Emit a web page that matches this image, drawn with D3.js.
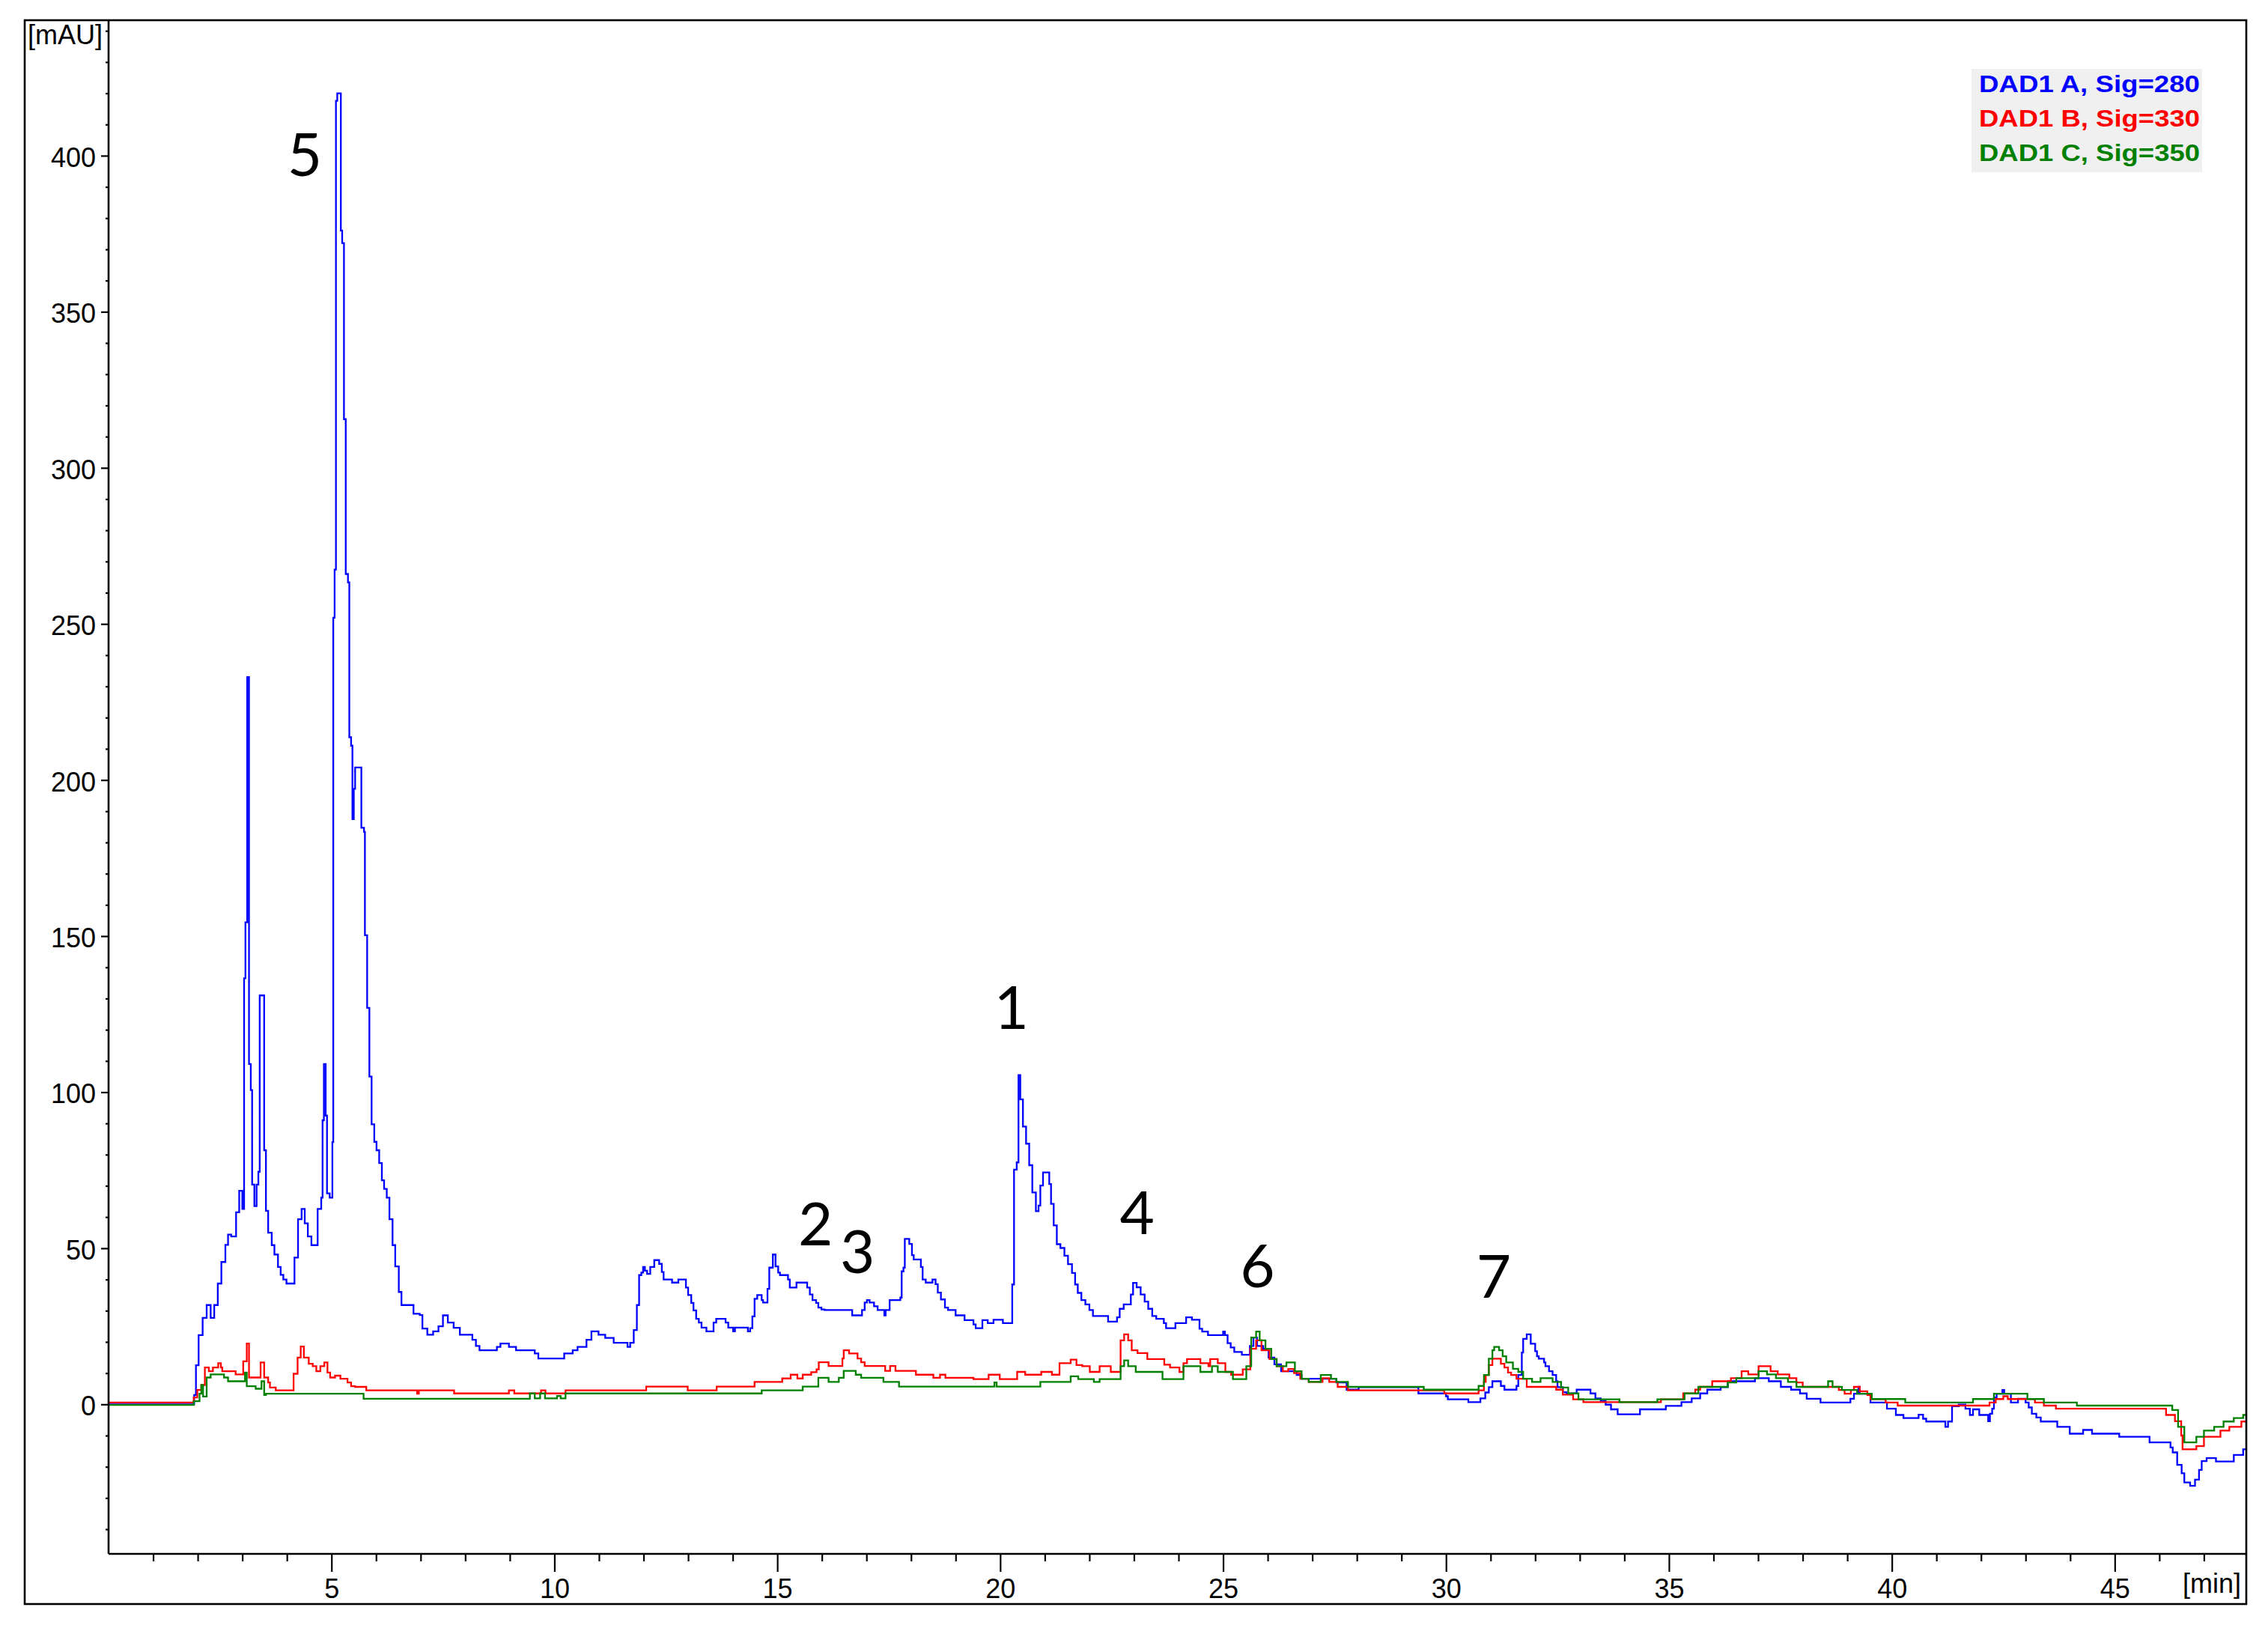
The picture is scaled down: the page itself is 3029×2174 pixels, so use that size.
<!DOCTYPE html>
<html><head><meta charset="utf-8">
<script src="https://cdn.jsdelivr.net/npm/d3@7"></script>
<style>html,body{margin:0;padding:0;background:#fff;} svg{display:block}</style>
</head><body><svg id="c" width="3029" height="2174"></svg>
<script>
// ---------- data ----------
const seriesNames = ["DAD1 A, Sig=280", "DAD1 B, Sig=330", "DAD1 C, Sig=350"];
const seriesColors = ["#0000ff", "#ff0000", "#008000"];

// [time (min), absorbance (mAU)] — step points
const sigA280 = [[0,0],[1.92,3],[1.96,12.5],[2.02,22.2],[2.11,27.7],[2.2,31.8],[2.29,27.7],[2.37,31.8],[2.45,38.7],[2.53,45.6],[2.62,51.1],[2.68,54.4],[2.75,53.8],[2.86,61.5],[2.93,68.4],[3.0,62.6],[3.04,136.5],[3.07,154.4],[3.11,233],[3.15,109],[3.19,100.7],[3.22,70.4],[3.27,63.5],[3.32,70.4],[3.36,74.5],[3.39,131],[3.49,81.4],[3.53,62],[3.58,55],[3.66,51],[3.72,48],[3.8,44],[3.86,41.5],[3.92,40],[3.99,38.7],[4.17,47],[4.25,59.3],[4.33,62.6],[4.4,58],[4.47,53.8],[4.55,51],[4.69,62.6],[4.77,66.2],[4.8,91],[4.83,109],[4.87,92.5],[4.9,67.6],[4.96,66.2],[5.02,84],[5.04,252],[5.07,267.4],[5.1,417.6],[5.13,420],[5.21,376],[5.24,372],[5.28,315.6],[5.32,266],[5.37,263.3],[5.4,213.7],[5.44,211],[5.47,187.5],[5.5,197.2],[5.53,204],[5.67,184.7],[5.73,183.4],[5.75,150.3],[5.8,127],[5.85,105],[5.9,89.7],[5.96,84.1],[6.01,81.4],[6.07,77.3],[6.13,71.8],[6.18,69],[6.24,66.2],[6.3,59.3],[6.37,51],[6.43,44.2],[6.51,36],[6.57,31.8],[6.84,29],[6.98,28.6],[7.04,24.3],[7.15,22.3],[7.28,23.4],[7.4,25],[7.5,28.5],[7.61,26.2],[7.74,24.5],[7.88,22.3],[8.16,20.7],[8.24,18.7],[8.32,17.3],[8.71,18.4],[8.79,19.5],[8.98,18.4],[9.14,17.3],[9.56,16.3],[9.64,14.7],[10.22,16.3],[10.41,17.3],[10.52,18.4],[10.72,20.7],[10.83,23.4],[10.99,22.3],[11.14,21.3],[11.33,19.7],[11.64,18.4],[11.7,19.7],[11.78,23.8],[11.85,31.8],[11.9,41.4],[11.95,42.2],[11.99,44],[12.03,42.8],[12.08,41.8],[12.15,44],[12.24,46.2],[12.35,45],[12.41,42.4],[12.45,40],[12.64,39],[12.78,40],[12.95,37.4],[13.0,35],[13.07,32.5],[13.12,30.1],[13.18,27.4],[13.24,26.2],[13.3,24.6],[13.41,23.4],[13.57,26.2],[13.63,27.4],[13.84,26.2],[13.9,24.6],[14.01,23.4],[14.05,24.6],[14.34,23.4],[14.39,24.4],[14.44,28.2],[14.49,33.8],[14.55,35],[14.65,33.4],[14.68,32.6],[14.78,37],[14.82,43.8],[14.9,48],[14.96,44.2],[15.02,42.2],[15.06,41.4],[15.24,40],[15.28,37.4],[15.43,39],[15.67,37.4],[15.73,35.2],[15.79,33.4],[15.87,32.5],[15.92,31],[15.99,30.4],[16.06,30.2],[16.68,28.5],[16.9,30.2],[16.96,32.6],[17.01,33.4],[17.07,32.6],[17.17,31.4],[17.25,30.2],[17.4,28.5],[17.43,30.2],[17.52,33.4],[17.76,34.2],[17.79,42.6],[17.83,43.8],[17.86,53],[17.96,51.4],[18.02,47.8],[18.06,46.4],[18.22,44],[18.26,40],[18.33,39],[18.48,40],[18.55,38.5],[18.6,35.8],[18.67,33.6],[18.76,31],[18.83,30.2],[19.0,28.5],[19.2,27],[19.4,25.6],[19.45,24.4],[19.6,27],[19.72,26],[19.85,27.1],[20.06,26],[20.27,38.4],[20.31,75.2],[20.37,77.5],[20.41,105.5],[20.45,97.7],[20.51,89],[20.58,83.5],[20.65,76.6],[20.72,67.9],[20.8,61.9],[20.86,63.7],[20.9,70.1],[20.96,74.3],[21.1,70.6],[21.14,64.2],[21.2,57.3],[21.27,51.3],[21.35,50.1],[21.44,47.6],[21.52,44.9],[21.61,42.1],[21.68,38.4],[21.74,35.7],[21.82,33.4],[21.91,32],[22.0,30.2],[22.08,28.3],[22.42,26.5],[22.62,27.9],[22.68,30.6],[22.77,32],[22.93,35.2],[22.98,38.9],[23.06,37.5],[23.15,35.2],[23.24,32.9],[23.32,30.6],[23.41,28.3],[23.5,27.4],[23.67,26],[23.72,24.4],[23.93,26],[24.17,27.9],[24.3,27.1],[24.47,24.2],[24.53,23.3],[24.66,22.2],[25.0,23.3],[25.04,22.2],[25.1,19.6],[25.17,18.2],[25.25,16.8],[25.42,15.9],[25.6,18.7],[25.68,21.4],[25.76,18.7],[25.9,17.8],[26.02,15],[26.15,12.8],[26.3,10.6],[26.65,9.4],[26.76,8.2],[27.54,7],[27.77,4.7],[28.04,5.5],[29.38,3.5],[30.0,2.6],[30.04,1.6],[30.5,0.7],[30.77,1.9],[30.88,3.8],[30.96,5.5],[31.04,7.4],[31.23,5.9],[31.31,4.7],[31.58,5.9],[31.62,9.4],[31.7,16.6],[31.73,21],[31.81,22.4],[31.9,19.4],[32.0,17],[32.04,15.4],[32.08,14.6],[32.2,13.4],[32.23,12.2],[32.31,10.6],[32.39,9.4],[32.47,7.4],[32.5,5.5],[32.62,3.9],[32.7,3.5],[32.93,4.7],[33.24,3.5],[33.35,1.9],[33.47,1.1],[33.58,-0.1],[33.7,-1.6],[33.85,-3.2],[34.35,-1.6],[34.93,-0.5],[35.28,0.7],[35.51,1.9],[35.7,3.5],[35.86,4.7],[36.16,5.5],[36.32,7.4],[36.93,8.4],[37.24,7.4],[37.51,5.6],[37.74,4.7],[37.94,3.5],[38.09,1.8],[38.4,0.6],[39.07,1.8],[39.15,3.4],[39.25,5.6],[39.28,3.4],[39.52,0.6],[39.89,-1.4],[40.09,-3.4],[40.26,-4.4],[40.6,-3.3],[40.7,-4.6],[40.77,-5.5],[41.2,-7.2],[41.26,-5.5],[41.35,-0.6],[41.5,-0.1],[41.65,-1.4],[41.75,-3.4],[41.82,-1.6],[41.96,-3.4],[42.16,-5.4],[42.2,-3],[42.25,-1.4],[42.29,2.2],[42.35,3.4],[42.48,4.6],[42.52,3.4],[42.67,0.6],[42.83,1.8],[43.0,0.6],[43.07,-1],[43.14,-3],[43.24,-4.2],[43.34,-5.5],[43.71,-7.2],[43.99,-9.4],[44.29,-8.2],[44.49,-9.4],[45.1,-10.4],[45.78,-12.2],[46.25,-13.8],[46.3,-15.4],[46.4,-19.4],[46.5,-22.1],[46.56,-25],[46.69,-26.1],[46.8,-24.1],[46.89,-21],[46.95,-18.2],[47.06,-17.2],[47.27,-18.3],[47.67,-16.2],[47.88,-14.4],[47.95,-14.4]];

const sigB330 = [[0,0.6],[1.91,2.2],[1.99,4.6],[2.08,6.2],[2.16,11.8],[2.25,10.6],[2.34,11.8],[2.46,13.2],[2.52,11.8],[2.55,10.6],[2.85,9.6],[3.02,13.8],[3.1,19.5],[3.15,8.6],[3.41,13.4],[3.49,8.6],[3.58,7],[3.62,5.4],[3.75,4.5],[4.15,9.8],[4.24,15],[4.31,18.5],[4.38,15],[4.49,13],[4.58,12.2],[4.66,10.6],[4.75,12.2],[4.84,13.4],[4.91,10.2],[4.97,8.6],[5.08,9.2],[5.2,8.2],[5.36,7],[5.44,5.8],[5.53,5.6],[5.78,4.5],[6.92,3.4],[6.96,4.5],[7.75,3.5],[8.98,4.5],[9.1,3.5],[9.7,4.5],[9.8,3.5],[10.25,4.5],[12.06,5.7],[12.99,4.5],[13.64,5.7],[14.49,7.2],[15.11,8.3],[15.3,9.5],[15.45,8.3],[15.57,9.5],[15.76,10.3],[15.88,11.2],[15.93,13.5],[16.15,12.3],[16.46,14.7],[16.49,17.3],[16.61,16.3],[16.8,14.7],[16.88,13.5],[16.96,12.3],[17.42,10.7],[17.53,12.3],[17.65,10.7],[18.11,9.5],[18.5,8.5],[18.65,9.5],[18.77,8.5],[19.4,8.1],[19.74,9.5],[19.99,8.1],[20.38,10.4],[20.56,9.5],[20.92,10.4],[21.16,9.5],[21.33,13.2],[21.58,14.3],[21.71,12.6],[21.84,12.2],[22.01,10.4],[22.23,12.2],[22.48,10.4],[22.7,20.5],[22.78,22.4],[22.87,20.5],[22.95,17.3],[23.08,16.4],[23.3,14.5],[23.68,12.7],[23.81,11.8],[24.02,10.4],[24.11,13.2],[24.19,14.5],[24.49,13.2],[24.67,12.2],[24.71,14.5],[24.88,13.2],[25.05,10.4],[25.18,9.5],[25.44,11.2],[25.61,17.8],[25.74,20.5],[25.86,17.3],[26.04,14.5],[26.2,12.2],[26.34,10.6],[26.46,11.3],[26.59,10],[26.73,8.2],[26.92,7.2],[27.23,8.4],[27.38,7.2],[27.57,5.6],[27.8,4.5],[29.96,3.5],[30.73,4.5],[30.85,7.2],[30.89,9.4],[30.96,12.6],[31.04,14.6],[31.23,13],[31.31,11.8],[31.39,10.2],[31.46,9.4],[31.58,8.2],[31.81,5.6],[32.47,4.7],[32.62,3.1],[32.85,1.6],[33.08,0.7],[34.82,1.6],[35.32,3.5],[35.59,4.7],[35.7,5.6],[35.97,7.4],[36.39,8.4],[36.63,10.6],[36.78,9.6],[37.01,12.2],[37.28,10.6],[37.44,9.6],[37.7,8.4],[37.86,7.0],[38.0,5.6],[38.81,4.6],[38.94,3.4],[39.08,4.6],[39.15,5.6],[39.28,4.2],[39.45,3],[39.52,1.7],[39.86,0.6],[40.13,-0.4],[42.19,0.6],[42.33,1.7],[42.5,2.6],[42.6,1.7],[43.21,0.6],[43.41,-0.4],[43.68,-1.4],[46.15,-3.4],[46.35,-5.4],[46.49,-10],[46.52,-14.4],[46.83,-13.4],[47.0,-10.4],[47.37,-8.4],[47.57,-7.2],[47.84,-5.5],[47.95,-5.5]];

const sigC350 = [[0,-0.2],[1.91,1.0],[2.04,3.4],[2.08,6.2],[2.12,2.5],[2.2,8.6],[2.29,9.6],[2.59,8.6],[2.68,7.4],[3.06,10.2],[3.1,5.8],[3.3,5],[3.43,7.4],[3.49,3],[3.53,3.4],[5.72,1.8],[9.45,3.5],[9.56,1.9],[9.68,3.5],[9.79,1.9],[10.06,2.7],[10.14,1.9],[10.25,3.5],[14.65,4.5],[15.57,5.7],[15.92,8.5],[16.15,7.2],[16.38,8.5],[16.49,10.7],[16.76,9.5],[16.88,8.5],[17.38,7.2],[17.73,5.7],[19.87,7.0],[19.92,5.7],[20.9,7.2],[21.58,9.0],[21.75,8.1],[22.1,7.2],[22.23,8.1],[22.7,12.2],[22.78,14.1],[22.87,12.2],[23.04,10.4],[23.64,8.1],[24.11,12.2],[24.49,10.4],[24.75,12.2],[24.88,10.4],[25.22,8.1],[25.52,12.2],[25.63,21.4],[25.74,23.3],[25.82,20.5],[25.95,17.8],[26.08,14.5],[26.2,12.2],[26.42,13.4],[26.61,10.6],[26.76,8.2],[26.92,7.2],[27.19,9.4],[27.42,8.2],[27.54,7.2],[27.8,5.6],[29.5,4.7],[30.73,5.9],[30.85,9.4],[30.96,14.6],[31.04,17.3],[31.08,18.4],[31.19,17.3],[31.27,15.4],[31.35,13.4],[31.5,11.4],[31.62,10.4],[31.73,8.2],[31.93,7.2],[32.12,8.4],[32.39,7.2],[32.58,5.4],[32.74,3.5],[32.97,1.6],[33.89,0.7],[34.74,1.6],[35.35,3.5],[35.66,5.6],[36.32,7.0],[36.51,8.4],[37.01,10.6],[37.2,9.6],[37.4,8.4],[37.67,7.2],[37.86,5.6],[38.57,7.4],[38.67,5.6],[38.88,4.6],[39.22,3.4],[39.55,1.7],[40.3,0.6],[41.82,1.7],[42.29,3.4],[43.04,1.7],[43.41,0.6],[44.15,-0.4],[46.29,-1.8],[46.42,-7.2],[46.56,-12.2],[46.83,-10.4],[47.0,-8.4],[47.23,-7.2],[47.44,-5.5],[47.67,-4.4],[47.88,-3.4],[47.95,-3.4]];

const peakLabels = ["5", "1", "2", "3", "4", "6", "7"];
const peakTimes = [4.40, 20.25, 15.86, 16.80, 23.07, 25.77, 31.07];
const peakValues = [400.5, 127.2, 57.8, 48.9, 61.4, 44.4, 41.0];

const xMajorTicks = [5, 10, 15, 20, 25, 30, 35, 40, 45];
const xMinorTicks = d3.range(1, 48, 1).filter(v => v % 5 !== 0);
const yMajorTicks = [0, 50, 100, 150, 200, 250, 300, 350, 400];
const yMinorTicks = d3.range(-40, 441, 10).filter(v => v % 50 !== 0);
const xUnit = "[min]";
const yUnit = "[mAU]";

// ---------- drawing ----------
const svg = d3.select("#c");
const L = 145, R = 3000, T = 27, B = 2075;
const x = d3.scaleLinear().domain([0, 47.95]).range([L, R]);
const y = d3.scaleLinear().domain([-47.9, 443.4]).range([B, T]);
const tickFont = "'Liberation Sans', Arial, sans-serif";

svg.append("rect").attr("width", 3029).attr("height", 2174).attr("fill", "#fff");

svg.append("defs").append("clipPath").attr("id", "plotclip")
  .append("rect").attr("x", L).attr("y", T).attr("width", R - L).attr("height", B - T);

// series lines
const line = d3.line().x(d => x(d[0])).y(d => y(d[1])).curve(d3.curveStepAfter);
const allSeries = [sigA280, sigB330, sigC350];
const gLines = svg.append("g").attr("clip-path", "url(#plotclip)");
allSeries.forEach((s, i) => {
  gLines.append("path").datum(s)
    .attr("d", line)
    .attr("fill", "none")
    .attr("stroke", seriesColors[i])
    .attr("stroke-width", 2.3)
    .attr("stroke-linejoin", "miter");
});

// axes
function styleAxis(g) {
  g.selectAll("line").attr("stroke", "#000").attr("stroke-width", 2.2);
  g.selectAll("path").remove();
  g.selectAll("text").attr("font-family", tickFont).attr("font-size", 36).attr("fill", "#000");
}
svg.append("g").attr("transform", `translate(0,${B})`)
  .call(d3.axisBottom(x).tickValues(xMinorTicks).tickSize(10).tickFormat(""))
  .call(styleAxis);
svg.append("g").attr("transform", `translate(0,${B})`)
  .call(d3.axisBottom(x).tickValues(xMajorTicks).tickSize(24).tickPadding(9).tickFormat(d3.format("d")))
  .call(styleAxis);
svg.append("g").attr("transform", `translate(${L},0)`)
  .call(d3.axisLeft(y).tickValues(yMinorTicks).tickSize(4).tickFormat(""))
  .call(styleAxis);
const yMaj = svg.append("g").attr("transform", `translate(${L},0)`)
  .call(d3.axisLeft(y).tickValues(yMajorTicks).tickSize(10).tickPadding(7).tickFormat(d3.format("d")))
  .call(styleAxis);
yMaj.selectAll("text").attr("dy", "0.40em");

// axis lines and frame
svg.append("line").attr("x1", L).attr("x2", L).attr("y1", T).attr("y2", B)
  .attr("stroke", "#000").attr("stroke-width", 2.6);
svg.append("line").attr("x1", L).attr("x2", R).attr("y1", B).attr("y2", B)
  .attr("stroke", "#000").attr("stroke-width", 2.6);
svg.append("rect").attr("x", 33).attr("y", T).attr("width", R - 33).attr("height", 2142 - T)
  .attr("fill", "none").attr("stroke", "#000").attr("stroke-width", 2.6);

// unit labels
svg.append("text").attr("x", 137).attr("y", 59).attr("text-anchor", "end")
  .attr("font-family", tickFont).attr("font-size", 36).text(yUnit);
svg.append("text").attr("x", 2993).attr("y", 2127).attr("text-anchor", "end")
  .attr("font-family", tickFont).attr("font-size", 36).text(xUnit);

// legend
const lg = svg.append("g");
lg.append("rect").attr("x", 2633).attr("y", 92).attr("width", 308).attr("height", 138).attr("fill", "#f0f0f0");
seriesNames.forEach((n, i) => {
  lg.append("text").attr("x", 2643).attr("y", 123 + i * 46)
    .attr("font-family", tickFont).attr("font-size", 31).attr("font-weight", "bold")
    .attr("fill", seriesColors[i])
    .attr("textLength", 295).attr("lengthAdjust", "spacingAndGlyphs")
    .text(n);
});

// peak labels
svg.append("g").selectAll("text").data(peakLabels).join("text")
  .attr("x", (d, i) => x(peakTimes[i]))
  .attr("y", (d, i) => y(peakValues[i]))
  .attr("dy", "0.36em")
  .attr("text-anchor", "middle")
  .attr("font-family", "Lato, 'Open Sans', sans-serif")
  .attr("font-size", 80)
  .attr("fill", "#000")
  .text(d => d);
</script>
</body></html>
